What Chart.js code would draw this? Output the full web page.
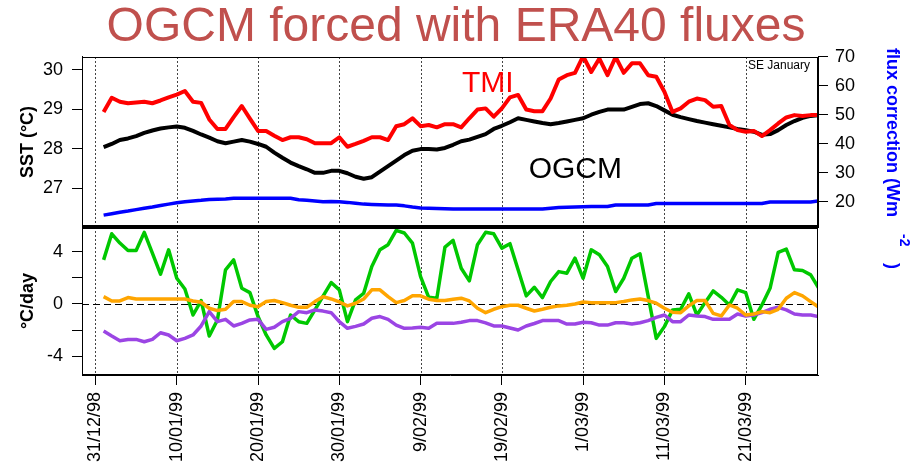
<!DOCTYPE html>
<html>
<head>
<meta charset="utf-8">
<script src="https://cdn.jsdelivr.net/npm/chart.js@4.4.1/dist/chart.umd.min.js"></script>
<style>
  html, body { margin: 0; padding: 0; background: #fff; }
  #wrap { position: relative; width: 912px; height: 465px; overflow: hidden; }
  #sstChart { position: absolute; left: 0; top: 0; }
  #rateChart { position: absolute; left: 0; top: 205px; }
</style>
</head>
<body>
<div id="wrap">
  <canvas id="sstChart" width="912" height="300"></canvas>
  <canvas id="rateChart" width="912" height="260"></canvas>
</div>
<script>
// days since 31/12/98
var days = [1, 2, 3, 4, 5, 6, 7, 8, 9, 10,
  11, 12, 13, 14, 15, 16, 17, 18, 19, 20,
  21, 22, 23, 24, 25, 26, 27, 28, 29, 30,
  31, 32, 33, 34, 35, 36, 37, 38, 39, 40,
  41, 42, 43, 44, 45, 46, 47, 48, 49, 50,
  51, 52, 53, 54, 55, 56, 57, 58, 59, 60,
  61, 62, 63, 64, 65, 66, 67, 68, 69, 70,
  71, 72, 73, 74, 75, 76, 77, 78, 79, 80,
  81, 82, 83, 84, 85, 86, 87, 88, 89]
var tickDays = [0, 10, 20, 30, 40, 50, 60, 70, 80]
var tickDates = ['31/12/98', '10/01/99', '20/01/99', '30/01/99', '9/02/99', '19/02/99', '1/03/99', '11/03/99', '21/03/99']
var sstTicks = [27, 28, 29, 30]
var fluxTicks = [20, 30, 40, 50, 60, 70]
var rateTicks = [-4, -2, 0, 2, 4]

// SST (°C)
var tmi = [28.93, 29.29, 29.19, 29.15, 29.17, 29.19, 29.15, 29.22, 29.30, 29.37,
  29.46, 29.19, 29.16, 28.74, 28.50, 28.50, 28.80, 29.08, 28.76, 28.45,
  28.45, 28.33, 28.22, 28.29, 28.29, 28.24, 28.14, 28.14, 28.14, 28.29,
  28.05, 28.12, 28.20, 28.29, 28.29, 28.22, 28.57, 28.62, 28.77, 28.57,
  28.60, 28.54, 28.62, 28.62, 28.54, 28.77, 28.99, 29.02, 28.81, 29.02,
  29.30, 29.36, 28.99, 28.95, 28.95, 29.27, 29.75, 29.86, 29.92, 30.34,
  29.94, 30.28, 29.86, 30.32, 29.92, 30.16, 30.16, 29.86, 29.82, 29.44,
  28.93, 29.02, 29.19, 29.27, 29.23, 29.06, 29.08, 28.60, 28.47, 28.43,
  28.45, 28.32, 28.47, 28.64, 28.79, 28.85, 28.83, 28.85, 28.85]
var ogcm = [28.04, 28.12, 28.22, 28.26, 28.32, 28.40, 28.46, 28.51, 28.54, 28.56,
  28.53, 28.45, 28.36, 28.28, 28.19, 28.14, 28.18, 28.22, 28.18, 28.12,
  28.05, 27.90, 27.77, 27.65, 27.56, 27.48, 27.39, 27.39, 27.44, 27.44,
  27.38, 27.29, 27.24, 27.28, 27.42, 27.56, 27.70, 27.84, 27.95, 27.99,
  27.99, 27.98, 28.02, 28.10, 28.19, 28.23, 28.30, 28.37, 28.50, 28.58,
  28.67, 28.77, 28.73, 28.69, 28.65, 28.62, 28.65, 28.69, 28.73, 28.77,
  28.86, 28.93, 28.99, 28.99, 28.99, 29.06, 29.13, 29.15, 29.08, 28.97,
  28.86, 28.80, 28.75, 28.70, 28.66, 28.62, 28.58, 28.54, 28.50, 28.47,
  28.43, 28.35, 28.37, 28.47, 28.60, 28.70, 28.78, 28.83, 28.85]
// flux correction (W m-2)
var flux = [15.4, 15.9, 16.4, 16.8, 17.3, 17.8, 18.2, 18.7, 19.2, 19.7,
  20.0, 20.3, 20.5, 20.8, 20.9, 21.0, 21.2, 21.2, 21.2, 21.2,
  21.2, 21.2, 21.2, 21.2, 20.7, 20.5, 20.3, 20.0, 20.1, 20.0,
  19.8, 19.5, 19.2, 19.1, 19.0, 18.9, 18.9, 18.6, 18.2, 17.9,
  17.8, 17.7, 17.6, 17.5, 17.5, 17.5, 17.5, 17.5, 17.5, 17.5,
  17.5, 17.5, 17.5, 17.5, 17.5, 17.8, 18.0, 18.1, 18.2, 18.3,
  18.4, 18.4, 18.4, 18.9, 18.9, 18.9, 18.9, 18.9, 19.4, 19.4,
  19.4, 19.4, 19.4, 19.4, 19.4, 19.4, 19.4, 19.4, 19.4, 19.4,
  19.4, 19.4, 19.9, 19.9, 19.9, 19.9, 19.9, 19.9, 20.3]

// °C/day
var rateGreen = [3.38, 5.38, 4.67, 4.10, 4.10, 5.49, 3.90, 2.28, 4.15, 1.97,
  1.15, -0.85, 0.26, -2.46, -1.23, 2.62, 3.38, 1.20, 0.87, -0.97,
  -2.38, -3.41, -2.90, -0.85, -1.36, -1.49, -0.46, 0.60, 1.64, 1.08,
  -1.36, 0.31, 0.82, 2.87, 4.15, 4.54, 5.64, 5.44, 4.67, 2.10,
  0.51, 0.44, 4.36, 4.87, 2.74, 1.77, 4.54, 5.49, 5.38, 4.28,
  4.62, 2.62, 0.62, 1.28, 0.49, 1.72, 2.48, 2.36, 3.51, 1.97,
  4.15, 3.77, 2.87, 0.95, 1.97, 3.51, 3.85, 0.60, -2.64, -1.74,
  -0.46, -0.41, 0.77, -0.85, 0.10, 1.00, 0.51, -0.08, 1.08, 0.87,
  -1.18, -0.08, 1.20, 3.95, 4.20, 2.62, 2.56, 2.23, 1.20]
var rateOrange = [0.56, 0.23, 0.23, 0.49, 0.38, 0.38, 0.38, 0.38, 0.38, 0.38,
  0.38, 0.23, 0.13, -0.33, -0.51, -0.41, 0.18, 0.18, -0.10, -0.21,
  0.18, 0.26, 0.10, -0.10, -0.26, -0.26, 0.18, 0.56, 0.38, 0.15,
  -0.15, 0.05, 0.38, 1.08, 1.08, 0.56, 0.10, 0.26, 0.62, 0.62,
  0.36, 0.26, 0.26, 0.36, 0.44, 0.23, -0.33, -0.67, -0.41, -0.21,
  -0.10, -0.10, -0.33, -0.54, -0.41, -0.26, -0.15, -0.10, 0.00, 0.15,
  0.10, 0.10, 0.10, 0.10, 0.18, 0.31, 0.38, 0.26, 0.05, -0.33,
  -0.64, -0.67, -0.15, 0.26, 0.26, -0.72, -0.92, -0.08, -0.33, -0.85,
  -0.77, -0.59, -0.67, -0.41, 0.44, 0.87, 0.62, 0.18, -0.26]
var ratePurple = [-2.08, -2.46, -2.82, -2.72, -2.72, -2.90, -2.72, -2.21, -2.38, -2.82,
  -2.64, -2.38, -1.69, -0.59, -1.36, -1.18, -1.69, -1.49, -1.23, -1.18,
  -1.95, -1.79, -1.36, -1.10, -0.59, -0.67, -0.46, -0.55, -0.67, -1.36,
  -1.87, -1.72, -1.54, -1.10, -0.97, -1.18, -1.62, -1.87, -1.85, -1.79,
  -1.87, -1.49, -1.49, -1.49, -1.40, -1.28, -1.28, -1.45, -1.69, -1.69,
  -1.85, -2.00, -1.69, -1.50, -1.28, -1.28, -1.28, -1.54, -1.54, -1.40,
  -1.44, -1.62, -1.62, -1.44, -1.44, -1.54, -1.44, -1.28, -1.03, -0.85,
  -1.36, -1.36, -0.85, -0.92, -0.97, -1.18, -1.18, -1.18, -0.77, -0.92,
  -0.85, -0.67, -0.41, -0.26, -0.46, -0.77, -0.85, -0.85, -0.97]

var FONT = '"Liberation Sans", Arial, sans-serif'
Chart.defaults.font.family = FONT
Chart.defaults.color = '#000'

function pairs(values){
  return values.map((v, i) => ({x: days[i], y: v}))
}

function setTicks(list){
  return function(scale){ scale.ticks = list.map((v) => ({value: v})) }
}

// dotted verticals on every date tick
function drawDateLines(chart){
  var ctx = chart.ctx, a = chart.chartArea, x = chart.scales.x
  ctx.save()
  ctx.strokeStyle = '#444'
  ctx.lineWidth = 1
  ctx.setLineDash([2, 2])
  tickDays.forEach((d) => {
    var px = Math.round(x.getPixelForValue(d)) + 0.5
    ctx.beginPath()
    ctx.moveTo(px, a.top)
    ctx.lineTo(px, a.bottom)
    ctx.stroke()
  })
  ctx.restore()
}

function drawFrame(chart){
  var ctx = chart.ctx, a = chart.chartArea
  ctx.save()
  ctx.strokeStyle = '#000'
  ctx.lineWidth = 1
  ctx.strokeRect(a.left + 0.5, a.top + 0.5, a.right - a.left - 1, a.bottom - a.top - 1)
  ctx.restore()
}

var sstDecor = {
  id: 'sstDecor',
  beforeDatasetsDraw(chart){ drawDateLines(chart) },
  afterDraw(chart){
    var ctx = chart.ctx, a = chart.chartArea, x = chart.scales.x, y = chart.scales.y
    drawFrame(chart)
    ctx.save()
    ctx.textAlign = 'left'
    ctx.textBaseline = 'alphabetic'
    ctx.font = '30px ' + FONT
    ctx.fillStyle = '#ff0000'
    ctx.fillText('TMI', x.getPixelForValue(45.1), y.getPixelForValue(29.43))
    ctx.fillStyle = '#000'
    ctx.fillText('OGCM', x.getPixelForValue(53.3), y.getPixelForValue(27.25))
    ctx.font = '12px ' + FONT
    ctx.textAlign = 'right'
    ctx.fillText('SE January', a.right - 8, a.top + 12)

    // right axis title, read top to bottom
    ctx.translate(a.right + 74, a.top - 9)
    ctx.rotate(Math.PI / 2)
    ctx.fillStyle = '#0000ff'
    ctx.textAlign = 'left'
    ctx.textBaseline = 'middle'
    ctx.font = 'bold 18px ' + FONT
    var main = 'flux correction (Wm'
    var w = ctx.measureText(main).width
    ctx.fillText(main, 0, 0)
    ctx.fillText(')', w + 46, 0)
    ctx.font = 'bold 14px ' + FONT
    ctx.fillText('-2', w + 17, -12)
    ctx.restore()
  }
}

var rateDecor = {
  id: 'rateDecor',
  beforeDatasetsDraw(chart){
    var ctx = chart.ctx, a = chart.chartArea, y = chart.scales.y
    drawDateLines(chart)
    var py = Math.round(y.getPixelForValue(0)) + 0.5
    ctx.save()
    ctx.strokeStyle = '#000'
    ctx.lineWidth = 1.2
    ctx.setLineDash([7, 4])
    ctx.beginPath()
    ctx.moveTo(a.left, py)
    ctx.lineTo(a.right, py)
    ctx.stroke()
    ctx.restore()
  },
  afterDraw(chart){
    var ctx = chart.ctx, a = chart.chartArea
    drawFrame(chart)
    // thick line between the two panels
    ctx.save()
    ctx.strokeStyle = '#000'
    ctx.lineWidth = 4
    ctx.beginPath()
    ctx.moveTo(a.left, a.top)
    ctx.lineTo(a.right, a.top)
    ctx.stroke()
    ctx.restore()
  }
}

var tickGrid = { drawOnChartArea: false, tickLength: 10, color: '#000', tickColor: '#000' }

var sstChart = new Chart(document.getElementById('sstChart'), {
  type: 'line',
  data: {
    datasets: [
      { label: 'TMI', data: pairs(tmi), yAxisID: 'y', borderColor: '#ff0000', borderWidth: 4 },
      { label: 'OGCM', data: pairs(ogcm), yAxisID: 'y', borderColor: '#000000', borderWidth: 4 },
      { label: 'flux correction', data: pairs(flux), yAxisID: 'yFlux', borderColor: '#0000ff', borderWidth: 3.5 }
    ]
  },
  options: {
    responsive: false,
    animation: false,
    elements: { point: { radius: 0 }, line: { tension: 0, borderJoinStyle: 'round' } },
    layout: { padding: { left: 0, right: 0, top: 0, bottom: 73 } },
    plugins: {
      legend: { display: false },
      tooltip: { enabled: false },
      title: {
        display: true,
        text: 'OGCM forced with ERA40 fluxes',
        color: '#c0504d',
        font: { size: 48, weight: 'normal', lineHeight: 1.15 },
        padding: { top: 0, bottom: 1.8 }
      }
    },
    scales: {
      x: { type: 'linear', display: false, min: -1.66, max: 88.9 },
      y: {
        position: 'left',
        min: 26.02,
        max: 30.32,
        afterBuildTicks: setTicks(sstTicks),
        afterFit: function(s){ s.width = 82 },
        grid: tickGrid,
        border: { color: '#000' },
        ticks: { font: { size: 18 }, padding: 9 },
        title: { display: true, text: 'SST (°C)', font: { size: 18, weight: 'bold' }, padding: { top: 17, bottom: 0 } }
      },
      yFlux: {
        position: 'right',
        min: 11.3,
        max: 70,
        afterBuildTicks: setTicks(fluxTicks),
        afterFit: function(s){ s.width = 94 },
        grid: tickGrid,
        border: { color: '#000' },
        ticks: { font: { size: 18 }, padding: 7 }
      }
    }
  },
  plugins: [sstDecor]
})

var rateChart = new Chart(document.getElementById('rateChart'), {
  type: 'line',
  data: {
    datasets: [
      { label: 'orange', data: pairs(rateOrange), borderColor: '#ffa500', borderWidth: 3.5 },
      { label: 'purple', data: pairs(ratePurple), borderColor: '#9b45e4', borderWidth: 3.5 },
      { label: 'green', data: pairs(rateGreen), borderColor: '#00c800', borderWidth: 3.5 }
    ]
  },
  options: {
    responsive: false,
    animation: false,
    elements: { point: { radius: 0 }, line: { tension: 0, borderJoinStyle: 'round' } },
    layout: { padding: { left: 0, right: 94, top: 22, bottom: 0 } },
    plugins: {
      legend: { display: false },
      tooltip: { enabled: false }
    },
    scales: {
      x: {
        type: 'linear',
        min: -1.66,
        max: 88.9,
        afterBuildTicks: setTicks(tickDays),
        afterFit: function(s){ s.height = 90 },
        grid: tickGrid,
        border: { color: '#000' },
        ticks: {
          font: { size: 18 },
          padding: 7,
          autoSkip: false,
          minRotation: 90,
          maxRotation: 90,
          callback: function(v){ return tickDates[tickDays.indexOf(v)] }
        }
      },
      y: {
        position: 'left',
        min: -5.45,
        max: 5.9,
        afterBuildTicks: setTicks(rateTicks),
        afterFit: function(s){ s.width = 82 },
        grid: tickGrid,
        border: { color: '#000' },
        ticks: {
          font: { size: 18 },
          padding: 9,
          callback: function(v){ return (v % 4 == 0) ? v : '' }
        },
        title: { display: true, text: '°C/day', font: { size: 18, weight: 'bold' }, padding: { top: 17, bottom: 0 } }
      }
    }
  },
  plugins: [rateDecor]
})
</script>
</body>
</html>
